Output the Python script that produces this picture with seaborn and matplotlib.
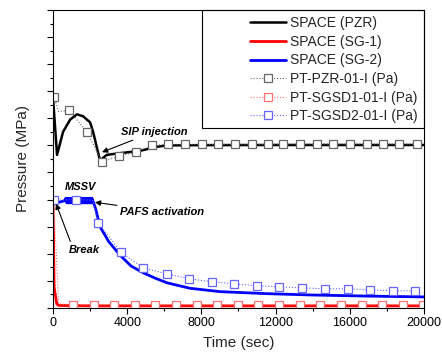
import numpy as np
import pandas as pd
import matplotlib
matplotlib.use("Agg")
import matplotlib.pyplot as plt
from matplotlib.patches import Rectangle
from matplotlib.ticker import MultipleLocator
import seaborn as sns

# SPACE calculation (MPa vs sec)
pzr_t = [0, 215, 540, 920, 1290, 1620, 2000, 2160, 2530, 2900, 3450, 4690, 5600, 6150, 8000, 12000, 16000, 20000]
pzr_p = [15.5, 11.3, 13.0, 13.9, 14.3, 14.15, 13.7, 13.0, 10.9, 11.3, 11.4, 11.6, 11.9, 12.0, 12.02, 12.03, 12.03, 12.03]

sg1_t = [0, 60, 200, 300, 2000, 20000]
sg1_p = [7.7, 1.5, 0.3, 0.18, 0.15, 0.15]

sg2_t = [0, 150, 300, 450, 600, 700, 750, 800, 850, 900, 950, 1000, 1050, 1100, 1150, 1200,
         1250, 1300, 1350, 1400, 1450, 1500, 1550, 1600, 1650, 1700, 1750, 1800, 1850, 1900,
         1950, 2000, 2050, 2100, 2150, 2300, 2530, 3000, 3610, 4200, 4850, 5500, 6150, 7380,
         9000, 11530, 14000, 17000, 20000]
sg2_p = [8.05, 8.0, 7.8, 7.85, 7.9, 8.1, 7.75, 8.1, 7.75, 8.1, 7.75, 8.1, 7.75, 8.1, 7.75, 8.1,
         7.75, 8.1, 7.75, 8.1, 7.75, 8.1, 7.75, 8.1, 7.75, 8.1, 7.75, 8.1, 7.75, 8.1,
         7.75, 8.1, 7.75, 8.1, 7.9, 7.3, 6.0, 4.9, 3.9, 3.1, 2.6, 2.2, 1.85, 1.45,
         1.2, 1.05, 0.95, 0.87, 0.81]

# Experiment (PT sensors)
exp_pzr_t = [54, 300, 860, 1830, 2640, 3560, 4470, 5340, 6200, 7110, 8030, 8890, 9810, 10730,
             11590, 12400, 13310, 14230, 15090, 16010, 16920, 17790, 18650, 19620]
exp_pzr_p = [15.6, 14.5, 14.6, 13.0, 10.8, 11.2, 11.5, 12.0, 12.07, 12.07, 12.07, 12.08, 12.08, 12.08,
             12.08, 12.1, 12.1, 12.1, 12.1, 12.1, 12.1, 12.1, 12.1, 12.1]

exp_sg1_t = [54, 300, 1080, 2200, 3300, 4400, 5500, 6650, 7750, 8850, 9950, 11050, 12200,
             13300, 14400, 15550, 16650, 17750, 18850, 19950]
exp_sg1_p = [7.6, 0.3, 0.22, 0.22, 0.22, 0.22, 0.22, 0.22, 0.22, 0.22, 0.22, 0.22, 0.22,
             0.22, 0.22, 0.22, 0.22, 0.22, 0.22, 0.22]

exp_sg2_t = [54, 1240, 2150, 2430, 3670, 4850, 6150, 7330, 8570, 9750, 11000, 12180, 13420,
             14660, 15900, 17090, 18330, 19510]
exp_sg2_p = [7.95, 8.0, 7.95, 6.3, 4.1, 2.96, 2.5, 2.15, 1.93, 1.78, 1.63, 1.56, 1.48,
             1.41, 1.41, 1.33, 1.26, 1.26]

sns.set_theme(style="ticks")
plt.rcParams["font.family"] = ["Liberation Sans", "DejaVu Sans"]

fig, ax = plt.subplots(figsize=(4.42, 3.58), dpi=100)
fig.subplots_adjust(left=0.120, right=0.959, bottom=0.140, top=0.972)

# calculation lines
sns.lineplot(x=pzr_t, y=pzr_p, ax=ax, color="black", lw=1.8, sort=False, estimator=None, label="SPACE (PZR)")
sns.lineplot(x=sg1_t, y=sg1_p, ax=ax, color="#ff0000", lw=2.0, sort=False, estimator=None, label="SPACE (SG-1)")
sns.lineplot(x=sg2_t, y=sg2_p, ax=ax, color="#0000ff", lw=2.0, sort=False, estimator=None, label="SPACE (SG-2)")

# measured data, dotted with open squares
mk = dict(linestyle=":", lw=0.8, marker="s", markersize=5.5, markerfacecolor="white",
          markeredgewidth=0.9, sort=False, estimator=None)
pzr_marks = [i for i in range(len(exp_pzr_t)) if i != 1]
sg1_marks = [i for i in range(len(exp_sg1_t)) if i >= 2]
sg2_marks = [i for i in range(len(exp_sg2_t)) if i != 2]
sns.lineplot(x=exp_pzr_t, y=exp_pzr_p, ax=ax, color="#666666", markeredgecolor="#666666",
             markevery=pzr_marks, label="PT-PZR-01-I (Pa)", **mk)
sns.lineplot(x=exp_sg1_t, y=exp_sg1_p, ax=ax, color="#ff7070", markeredgecolor="#ff7070",
             markevery=sg1_marks, label="PT-SGSD1-01-I (Pa)", **mk)
sns.lineplot(x=exp_sg2_t, y=exp_sg2_p, ax=ax, color="#6666ff", markeredgecolor="#6666ff",
             markevery=sg2_marks, label="PT-SGSD2-01-I (Pa)", **mk)

# annotations
note = dict(fontsize=8, fontweight="bold", fontstyle="italic", color="black")
arr = dict(arrowstyle="-|>", color="black", lw=0.8, mutation_scale=8, shrinkA=0, shrinkB=0)
ax.annotate("SIP injection", xy=(2640, 11.5), xytext=(3650, 13.0), va="center", ha="left",
            arrowprops=arr, **note)
ax.text(1455, 8.96, "MSSV", va="center", ha="center", **note)
ax.annotate("PAFS activation", xy=(2260, 7.8), xytext=(3620, 7.1), va="center", ha="left",
            arrowprops=arr, **note)
ax.annotate("Break", xy=(160, 7.7), xytext=(1670, 4.3), va="center", ha="center",
            arrowprops=dict(arr, relpos=(0.1, 1.0)), **note)

ax.set_xlim(0, 20000)
ax.set_ylim(0, 22)
ax.xaxis.set_major_locator(MultipleLocator(4000))
ax.xaxis.set_minor_locator(MultipleLocator(2000))
ax.yaxis.set_major_locator(MultipleLocator(2))
ax.yaxis.set_minor_locator(MultipleLocator(1))
ax.tick_params(axis="both", which="major", direction="out", length=4, width=0.8,
               labelsize=9, color="black", labelcolor="black", pad=2.5)
ax.tick_params(axis="both", which="minor", direction="out", length=2.2, width=0.8, color="black")
ax.tick_params(axis="y", labelleft=False)
for s in ax.spines.values():
    s.set_visible(True)
    s.set_color("black")
    s.set_linewidth(0.8)

ax.set_xlabel("Time (sec)", fontsize=11, labelpad=5)
ax.set_ylabel("Pressure (MPa)", fontsize=11, labelpad=11)

leg = ax.legend(loc="upper right", borderaxespad=0, fontsize=10, frameon=False,
                handlelength=2.6, handletextpad=0.3, labelspacing=0.33, borderpad=0.45)
# legend box spans further left than its entries
ax.add_patch(Rectangle((0.402, 0.604), 0.598, 0.396, transform=ax.transAxes, fill=False,
                       edgecolor="black", lw=0.8, zorder=5, clip_on=False))

fig.savefig("out.png", dpi=100)
